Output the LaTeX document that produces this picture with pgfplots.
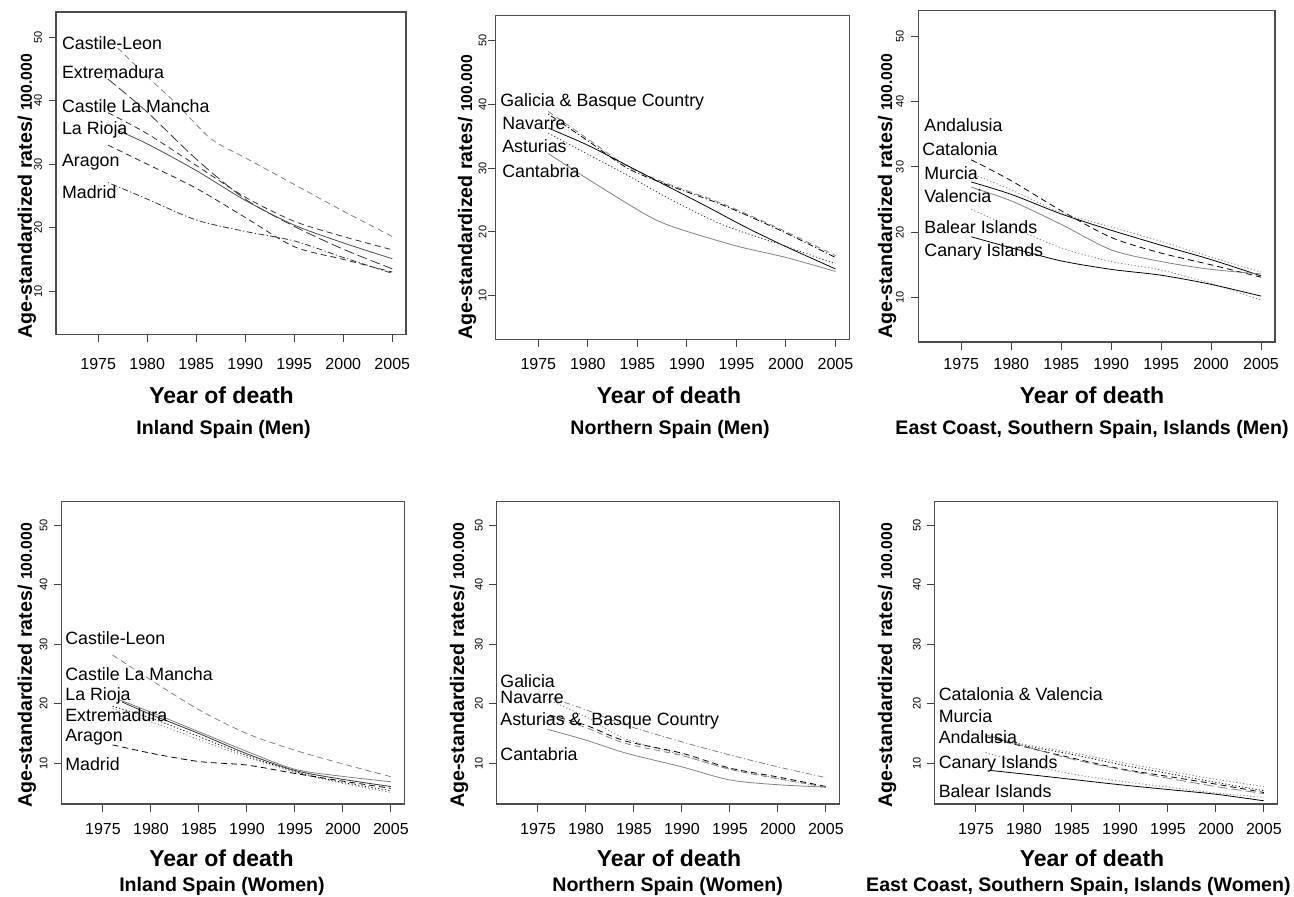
\documentclass[border=0pt]{standalone}
\usepackage{pgfplots}
\pgfplotsset{compat=1.18}
\usepackage{fontspec}
\setmainfont{Liberation Sans}
\tikzset{
  dsh/.style={dash pattern=on 3pt off 2pt},
  ldsh/.style={dash pattern=on 5pt off 2pt},
  dot/.style={dash pattern=on 0.6pt off 1.1pt},
  dd/.style={dash pattern=on 0.6pt off 1.2pt on 3pt off 1.2pt},
  lab/.style={anchor=base west, inner sep=0pt, font=\fontsize{8.9}{10}\selectfont},
  yl/.style={anchor=base west, inner sep=0pt, rotate=90},
  xl/.style={anchor=base, inner sep=0pt, font=\fontsize{11.5}{12}\selectfont\bfseries},
  st/.style={anchor=base, inner sep=0pt, font=\fontsize{9.8}{11}\selectfont\bfseries},
}
\newcommand{\ylabtext}{{\fontsize{9.8}{10}\selectfont\bfseries Age-standardized rates/ }{\fontsize{7.85}{8}\selectfont\bfseries 100.000}}
\pgfplotsset{
  panel/.style={scale only axis, xmin=1970.7, xmax=2006.4, ymin=3.16, ymax=53.97,
    xtick={1975,1980,1985,1990,1995,2000,2005}, ytick={10,20,30,40,50},
    tick align=outside, xtick pos=left, ytick pos=left, major tick length=3.75pt,
    axis line style={black!70, line width=0.6pt}, tick style={black!75, line width=0.5pt},
    /pgf/number format/assume math mode=true, /pgf/number format/1000 sep={},
    xticklabel style={font=\fontsize{8}{9}\selectfont, anchor=north, inner sep=0pt},
    yticklabel style={font=\fontsize{5.5}{6}\selectfont, rotate=90, anchor=south, inner sep=0pt},
    every axis plot/.append style={line width=0.4pt, smooth},
  },
}
\begin{document}
\begin{tikzpicture}
\useasboundingbox (0,0) rectangle (647pt,448pt);
% ---------- P1 Inland Spain (Men)
\begin{axis}[panel, at={(28pt,280.75pt)}, width=175pt, height=161.25pt,
  xticklabel shift=7.9pt, yticklabel shift=3.1pt]
\addplot[gray, dsh] coordinates {(1977,48.3) (1980,43.8) (1983,39.5) (1986.5,34.0) (1990,31.0) (1995,26.8) (2000,22.6) (2005,18.6)};
\addplot[black!80, ldsh] coordinates {(1976,43.4) (1980,38.2) (1985,30.8) (1990,24.5) (1995,20.2) (2000,16.6) (2005,13.5)};
\addplot[black!80, dsh] coordinates {(1976,38.1) (1980,34.8) (1985,29.8) (1990,24.8) (1995,21.0) (2000,18.6) (2005,16.5)};
\addplot[black!70] coordinates {(1977,35.3) (1980,33.2) (1985,29.0) (1990,24.3) (1995,20.4) (2000,17.6) (2005,15.1)};
\addplot[black!85, dsh] coordinates {(1976,33.0) (1980,30.0) (1985,26.2) (1990,21.6) (1995,17.0) (2000,15.0) (2005,13.0)};
\addplot[black!80, dd] coordinates {(1976,27.1) (1980,24.5) (1985,21.2) (1990,19.4) (1995,17.9) (2000,15.3) (2005,12.8)};
\node[lab] at (axis cs:1971.28,48.07) {Castile-Leon};
\node[lab] at (axis cs:1971.28,43.5) {Extremadura};
\node[lab] at (axis cs:1971.28,38.1) {Castile La Mancha};
\node[lab] at (axis cs:1971.28,34.6) {La Rioja};
\node[lab] at (axis cs:1971.28,29.7) {Aragon};
\node[lab] at (axis cs:1971.28,24.6) {Madrid};
\end{axis}
% ---------- P2 Northern Spain (Men)
\begin{axis}[panel, at={(247.85pt,278.35pt)}, width=176.8pt, height=161.95pt,
  xticklabel shift=5.5pt, yticklabel shift=0.6pt]
\addplot[gray, dsh] coordinates {(1976,38.9) (1980,34.6) (1984,30.3) (1988,27.6) (1993.5,24.5) (1999.5,20.4) (2005,16.3)};
\addplot[black, dd] coordinates {(1976,38.5) (1980,34.3) (1984,30.0) (1988,27.4) (1993.5,24.3) (1999.5,20.2) (2005,16.0)};
\addplot[black] coordinates {(1976,36.3) (1980,33.6) (1984,30.4) (1988,27.2) (1992,24.0) (1996,20.7) (2000,17.7) (2005,14.2)};
\addplot[black!80, dot] coordinates {(1976,35.5) (1980,32.2) (1984,28.9) (1988,25.4) (1993.5,21.2) (1999.5,18.0) (2005,15.0)};
\addplot[gray] coordinates {(1976,32.3) (1980,28.3) (1986,22.6) (1989,20.6) (1995,17.8) (2000,16.0) (2005,13.8)};
\node[lab] at (axis cs:1971.13,39.65) {Galicia \& Basque Country};
\node[lab] at (axis cs:1971.33,36.1) {Navarre};
\node[lab] at (axis cs:1971.33,32.5) {Asturias};
\node[lab] at (axis cs:1971.33,28.6) {Cantabria};
\end{axis}
% ---------- P3 East Coast (Men)
\begin{axis}[panel, at={(459.15pt,277pt)}, width=178.35pt, height=165.65pt,
  xticklabel shift=4.15pt, yticklabel shift=3.4pt]
\addplot[black, dsh] coordinates {(1976,31.1) (1980,27.9) (1985,23.3) (1990,19.2) (1995,16.8) (2000,15.0) (2005,13.1)};
\addplot[gray, dot] coordinates {(1976,29.0) (1980,26.5) (1985,23.0) (1990,20.8) (1995,18.6) (2000,16.2) (2005,13.9)};
\addplot[black] coordinates {(1976,27.7) (1980,25.8) (1985,22.8) (1990,20.3) (1995,18.0) (2000,15.8) (2005,13.3)};
\addplot[gray] coordinates {(1976,26.9) (1980,24.8) (1985,21.2) (1990,17.3) (1995,15.5) (2000,14.3) (2005,13.6)};
\addplot[gray, dot] coordinates {(1976,23.5) (1980,20.8) (1985,17.6) (1990,15.5) (1995,14.2) (2000,12.1) (2005,9.6)};
\addplot[black] coordinates {(1976,19.3) (1980,17.6) (1985,15.6) (1990,14.3) (1995,13.4) (2000,12.0) (2005,10.2)};
\node[lab] at (axis cs:1971.27,35.5) {Andalusia};
\node[lab] at (axis cs:1971.07,31.8) {Catalonia};
\node[lab] at (axis cs:1971.27,28.1) {Murcia};
\node[lab] at (axis cs:1971.27,24.6) {Valencia};
\node[lab] at (axis cs:1971.27,19.8) {Balear Islands};
\node[lab] at (axis cs:1971.27,16.2) {Canary Islands};
\end{axis}
% ---------- P4 Inland Spain (Women)
\begin{axis}[panel, at={(30.85pt,46pt)}, width=171.3pt, height=151.15pt,
  xticklabel shift=5.65pt, yticklabel shift=3.1pt]
\addplot[gray, dsh] coordinates {(1976,28.2) (1980,24.0) (1985,19.0) (1990,15.0) (1995,12.2) (2000,9.9) (2005,7.75)};
\addplot[gray] coordinates {(1976.5,20.8) (1980,18.6) (1985,15.3) (1990,12.0) (1995,9.0) (2000,7.8) (2005,6.9)};
\addplot[black!80] coordinates {(1977,20.3) (1980,18.2) (1985,15.0) (1990,11.6) (1995,8.8) (2000,7.3) (2005,6.1)};
\addplot[black, dot] coordinates {(1976,19.6) (1980,17.6) (1985,14.5) (1990,11.3) (1995,8.6) (2000,6.8) (2005,5.4)};
\addplot[gray, dot] coordinates {(1976,19.2) (1980,17.0) (1985,14.0) (1990,11.0) (1995,8.5) (2000,6.6) (2005,5.1)};
\addplot[black, dsh] coordinates {(1976,13.1) (1980,11.7) (1985,10.3) (1990,9.7) (1995,8.3) (2000,7.0) (2005,5.8)};
\node[lab] at (axis cs:1971.04,30.05) {Castile-Leon};
\node[lab] at (axis cs:1971.04,24.0) {Castile La Mancha};
\node[lab] at (axis cs:1971.04,20.5) {La Rioja};
\node[lab] at (axis cs:1971.04,17.0) {Extremadura};
\node[lab] at (axis cs:1971.04,13.6) {Aragon};
\node[lab] at (axis cs:1971.04,8.75) {Madrid};
\end{axis}
% ---------- P5 Northern Spain (Women)
\begin{axis}[panel, at={(248.35pt,46pt)}, width=171.3pt, height=151.15pt,
  xticklabel shift=5.65pt, yticklabel shift=3.1pt]
\addplot[gray, dd] coordinates {(1976.2,21.1) (1980,19.0) (1984.2,16.4) (1990,13.6) (1995,11.4) (2000,9.4) (2005,7.6)};
\addplot[gray, dot] coordinates {(1976,20.7) (1980,17.8) (1984,14.2) (1990,11.4) (1995,9.0) (2000,7.5) (2005,5.9)};
\addplot[black, dsh] coordinates {(1976.2,18.1) (1980,16.4) (1984,13.8) (1990,11.7) (1995,9.2) (2000,7.7) (2005,6.1)};
\addplot[gray, dsh] coordinates {(1976.2,17.8) (1980,16.0) (1984,13.4) (1990,11.3) (1995,9.0) (2000,7.4) (2005,6.0)};
\addplot[gray] coordinates {(1976,15.7) (1980,13.9) (1984.2,11.7) (1990,9.4) (1995,7.2) (2000,6.4) (2005,6.0)};
\node[lab] at (axis cs:1971.05,22.8) {Galicia};
\node[lab] at (axis cs:1971.05,20.1) {Navarre};
\node[lab] at (axis cs:1971.05,16.4) {Asturias \&\ \ Basque Country};
\node[lab] at (axis cs:1971.05,10.5) {Cantabria};
\end{axis}
% ---------- P6 East Coast (Women)
\begin{axis}[panel, at={(467.35pt,46pt)}, width=171.3pt, height=151.15pt,
  xticklabel shift=5.65pt, yticklabel shift=3.1pt]
\addplot[gray, dot] coordinates {(1977,14.0) (1980,13.2) (1985,11.8) (1990,10.2) (1995,8.7) (2000,7.3) (2005,6.1)};
\addplot[black, dot] coordinates {(1977,14.2) (1980,13.0) (1985,11.5) (1990,9.8) (1995,8.3) (2000,6.8) (2005,5.4)};
\addplot[black, dsh] coordinates {(1976,14.5) (1980,12.8) (1985,10.9) (1990,9.1) (1995,7.8) (2000,6.5) (2005,5.1)};
\addplot[gray, ldsh] coordinates {(1976,14.8) (1980,12.9) (1985,10.7) (1990,9.0) (1995,7.5) (2000,6.1) (2005,4.9)};
\addplot[gray, dot] coordinates {(1976,11.8) (1980,10.0) (1985,8.2) (1990,7.0) (1995,6.0) (2000,5.0) (2005,4.3)};
\addplot[black] coordinates {(1976.5,8.8) (1980,8.2) (1985,7.3) (1990,6.4) (1995,5.6) (2000,4.8) (2005,3.7)};
\node[lab] at (axis cs:1971.08,20.5) {Catalonia \& Valencia};
\node[lab] at (axis cs:1971.08,16.9) {Murcia};
\node[lab] at (axis cs:1971.08,13.4) {Andalusia};
\node[lab] at (axis cs:1971.08,9.1) {Canary Islands};
\node[lab] at (axis cs:1971.08,4.3) {Balear Islands};
\end{axis}
% ---------- outer texts
\node[yl] at (16pt,278.5pt) {\ylabtext};
\node[yl] at (236pt,278pt) {\ylabtext};
\node[yl] at (446pt,278.5pt) {\ylabtext};
\node[yl] at (16pt,44pt) {\ylabtext};
\node[yl] at (232pt,44pt) {\ylabtext};
\node[yl] at (446pt,44pt) {\ylabtext};
\node[xl] at (110.8pt,246.5pt) {Year of death};
\node[xl] at (334.5pt,246.5pt) {Year of death};
\node[xl] at (546pt,246.5pt) {Year of death};
\node[xl] at (110.75pt,15pt) {Year of death};
\node[xl] at (334.5pt,15pt) {Year of death};
\node[xl] at (546pt,15pt) {Year of death};
\node[st] at (111.8pt,231pt) {Inland Spain (Men)};
\node[st] at (335pt,231pt) {Northern Spain (Men)};
\node[st] at (546pt,231pt) {East Coast, Southern Spain, Islands (Men)};
\node[st] at (111pt,2.5pt) {Inland Spain (Women)};
\node[st] at (333.8pt,2.5pt) {Northern Spain (Women)};
\node[st, anchor=base east] at (645.5pt,2.5pt) {East Coast, Southern Spain, Islands (Women)};
\end{tikzpicture}
\end{document}
